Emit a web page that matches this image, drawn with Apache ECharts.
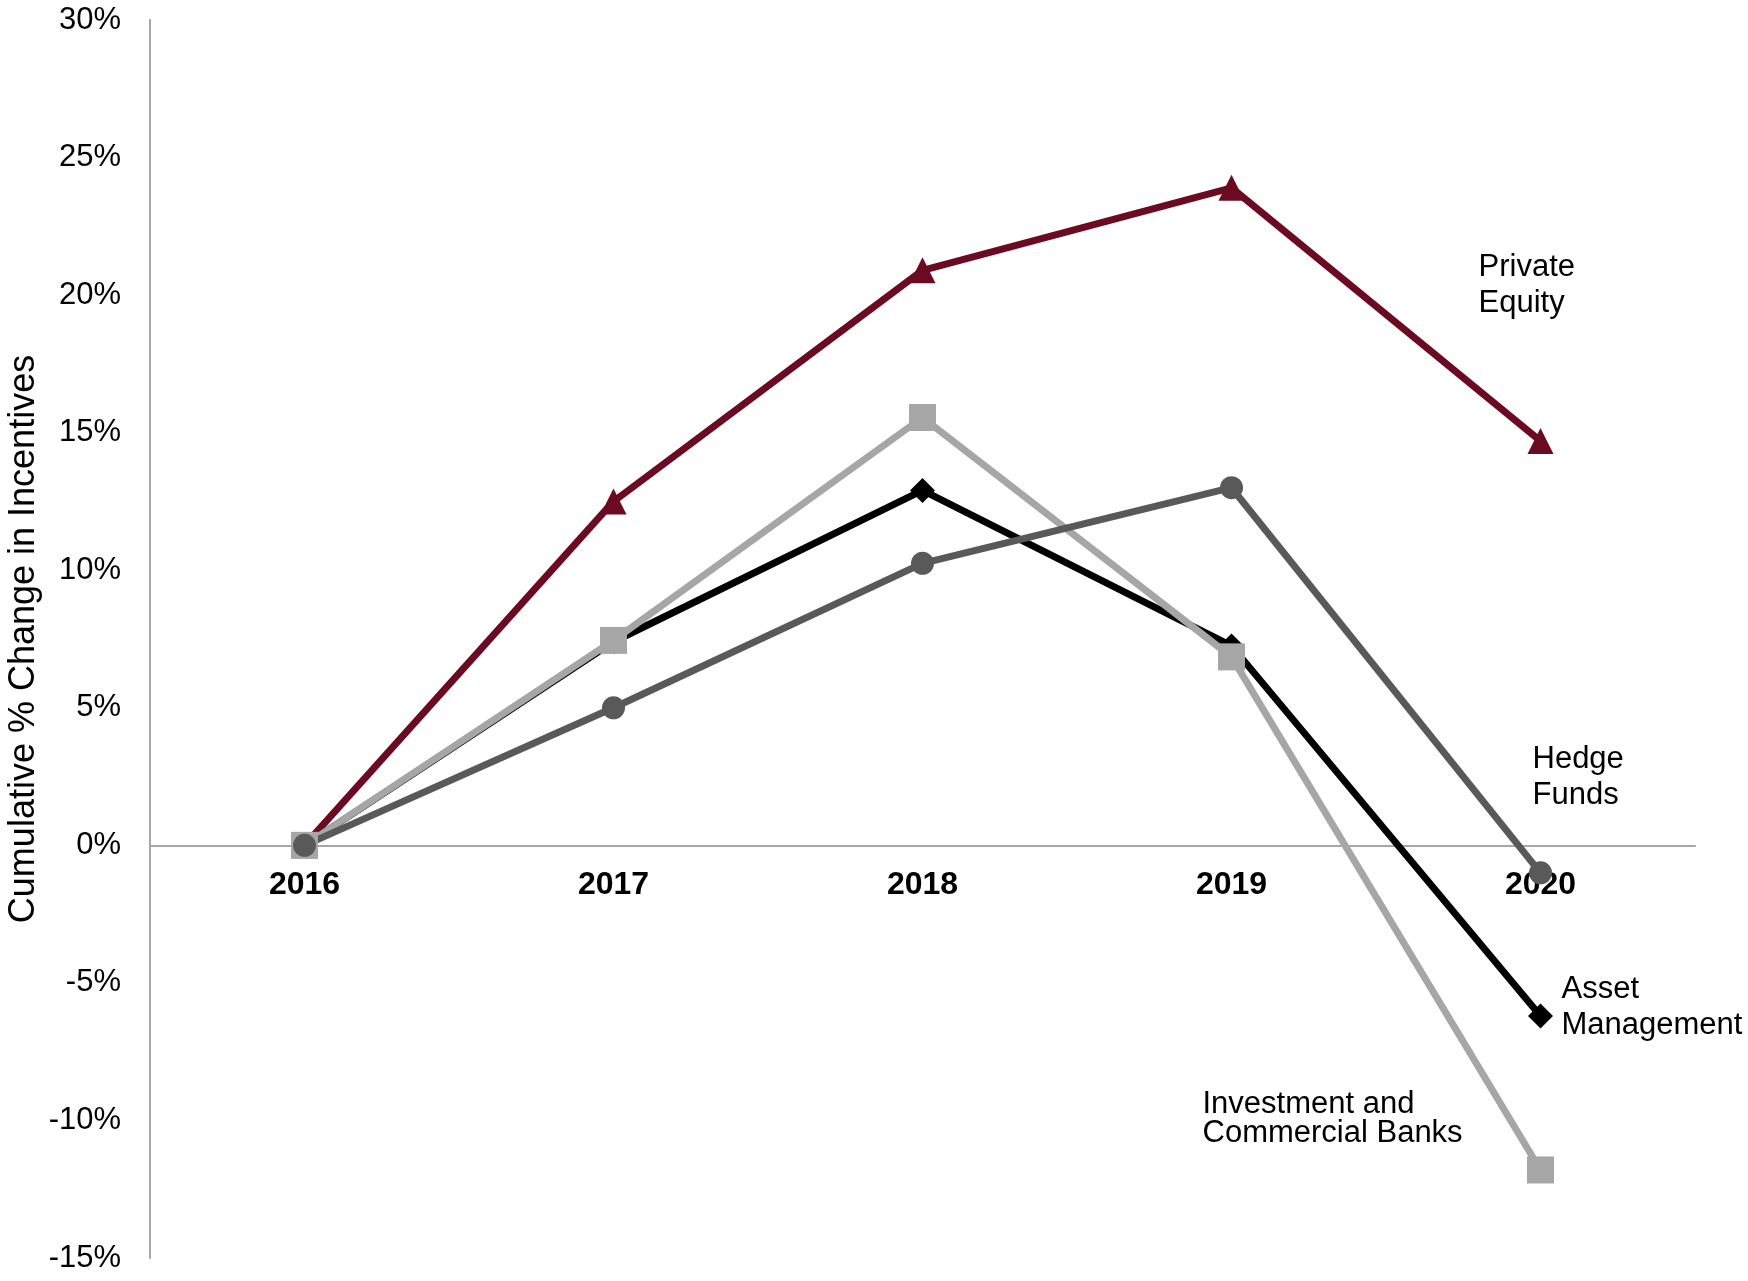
<!DOCTYPE html>
<html>
<head>
<meta charset="utf-8">
<title>Cumulative % Change in Incentives</title>
<script src="https://cdn.jsdelivr.net/npm/echarts@6/dist/echarts.min.js"></script>
<style>
    html, body { margin: 0; padding: 0; background: #fff; }
    #chart { width: 1748px; height: 1281px; }
</style>
</head>
<body>
<div id="chart"></div>
<script>
// 年份
var years = ['2016', '2017', '2018', '2019', '2020'];

// 各行业累计变化（%）
var privateEquity = [0, 12.5, 20.9, 23.9, 14.7];
var assetManagement = [0, 7.4, 12.9, 7.25, -6.2];
var investmentBanks = [0, 7.45, 15.55, 6.85, -11.8];
var hedgeFunds = [0, 5.0, 10.25, 13.0, -1.0];

// y轴刻度
var yMin = -15;
var yMax = 30;
var yStep = 5;

var FONT = 'Liberation Sans, Arial, sans-serif';

// 只在最后一个点上显示系列名称
function withEndLabel(values, text, offset, lineHeight) {
    return values.map(function (v, i) {
        if (i !== values.length - 1) {
            return v;
        }
        return {
            value: v,
            label: {
                show: true,
                position: 'inside',
                formatter: text,
                align: 'left',
                verticalAlign: 'middle',
                offset: offset,
                color: '#000',
                fontSize: 31,
                fontFamily: FONT,
                lineHeight: lineHeight
            }
        };
    });
}

function lineSeries(name, values, color, symbol, size, label) {
    return {
        name: name,
        type: 'line',
        data: withEndLabel(values, label.text, label.offset, label.lineHeight),
        symbol: symbol,
        symbolSize: size,
        showAllSymbol: true,
        smooth: false,
        lineStyle: {
            color: color,
            width: 7
        },
        itemStyle: {
            color: color
        },
        emphasis: { disabled: true }
    };
}

var chart = echarts.init(document.getElementById('chart'));

var option = {
    backgroundColor: '#fff',
    animation: false,
    grid: {
        left: 150,
        right: 53,
        top: 20,
        bottom: 23,
        containLabel: false,
        outerBoundsMode: 'none'
    },
    xAxis: {
        type: 'category',
        boundaryGap: true,
        data: years,
        axisLine: {
            show: true,
            onZero: false,
            lineStyle: { color: '#a6a6a6', width: 2 }
        },
        axisTick: { show: false },
        axisLabel: {
            margin: 24,
            color: '#000',
            fontSize: 32,
            fontWeight: 'bold',
            fontFamily: FONT,
            lineHeight: 32
        },
        splitLine: { show: false }
    },
    yAxis: {
        type: 'value',
        min: yMin,
        max: yMax,
        interval: yStep,
        name: 'Cumulative % Change in Incentives',
        nameLocation: 'middle',
        nameGap: 108,
        nameMoveOverlap: false,
        nameTextStyle: {
            color: '#000',
            fontSize: 36,
            fontFamily: FONT
        },
        axisLine: {
            show: true,
            lineStyle: { color: '#a6a6a6', width: 2 }
        },
        axisTick: { show: false },
        axisLabel: {
            margin: 29,
            color: '#000',
            fontSize: 31,
            fontFamily: FONT,
            formatter: '{value}%'
        },
        splitLine: { show: false }
    },
    series: [
        lineSeries('Private Equity', privateEquity, '#6b0a20', 'triangle', 26,
            { text: 'Private\nEquity', offset: [-62, -155], lineHeight: 36 }),
        lineSeries('Asset Management', assetManagement, '#000000', 'diamond', 25,
            { text: 'Asset\nManagement', offset: [21, -8], lineHeight: 36 }),
        lineSeries('Investment and Commercial Banks', investmentBanks, '#a6a6a6', 'rect', 27,
            { text: 'Investment and\nCommercial Banks', offset: [-338, -51], lineHeight: 29 }),
        lineSeries('Hedge Funds', hedgeFunds, '#595959', 'circle', 23,
            { text: 'Hedge\nFunds', offset: [-8, -95], lineHeight: 36 })
    ]
};

chart.setOption(option);

// x轴移到0%的位置（标签跟着轴线走）
var zeroY = chart.convertToPixel({ yAxisIndex: 0 }, 0);
var bottomY = chart.convertToPixel({ yAxisIndex: 0 }, yMin);
chart.setOption({
    xAxis: { offset: zeroY - bottomY }
});
</script>
</body>
</html>
